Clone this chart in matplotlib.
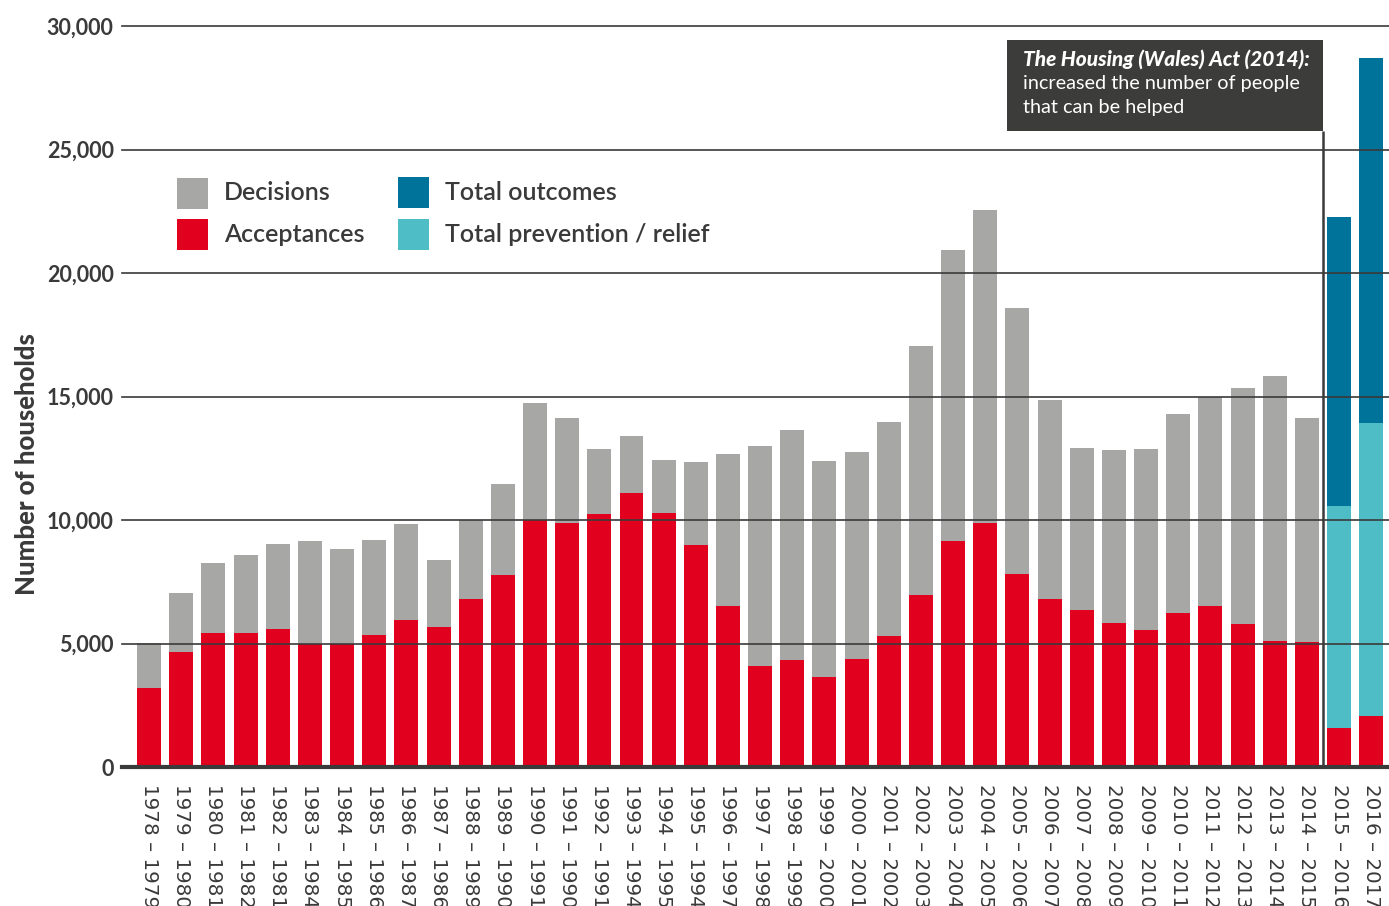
import matplotlib
matplotlib.use("Agg")
import matplotlib.pyplot as plt
from matplotlib.patches import Rectangle
import numpy as np

# ---------------- data ----------------
year_labels = [
    "1978 – 1979", "1979 – 1980", "1980 – 1981", "1981 – 1982", "1982 – 1981",
    "1983 – 1984", "1984 – 1985", "1985 – 1986", "1986 – 1987", "1987 – 1986",
    "1988 – 1989", "1989 – 1990", "1990 – 1991", "1991 – 1990", "1992 – 1991",
    "1993 – 1994", "1994 – 1995", "1995 – 1994", "1996 – 1997", "1997 – 1998",
    "1998 – 1999", "1999 – 2000", "2000 – 2001", "2001 – 2002", "2002 – 2003",
    "2003 – 2004", "2004 – 2005", "2005 – 2006", "2006 – 2007", "2007 – 2008",
    "2008 – 2009", "2009 – 2010", "2010 – 2011", "2011 – 2012", "2012 – 2013",
    "2013 – 2014", "2014 – 2015", "2015 – 2016", "2016 – 2017",
]

# Decisions (pre-2015 system)
decisions = [
    5020, 7040, 8260, 8580, 9030, 9150, 8830, 9190, 9840, 8380,
    10000, 11460, 14740, 14130, 12870, 13400, 12430, 12350, 12670, 13000,
    13640, 12390, 12750, 13970, 17040, 20930, 22550, 18580, 14860, 12910,
    12830, 12870, 14290, 14980, 15340, 15830, 14130,
]

# Acceptances (all years)
acceptances = [
    3200, 4660, 5420, 5420, 5590, 4980, 4980, 5340, 5950, 5670,
    6800, 7770, 10000, 9880, 10240, 11090, 10280, 8990, 6520, 4090,
    4330, 3640, 4370, 5300, 6960, 9150, 9880, 7810, 6800, 6360,
    5830, 5550, 6230, 6520, 5790, 5100, 5060, 1580, 2060,
]

# Housing (Wales) Act 2014 years
new_act_labels = ["2015 – 2016", "2016 – 2017"]
total_outcomes = [22270, 28700]
prevention_relief = [10570, 13930]

# ---------------- style ----------------
C_GRAY = "#a7a7a6"
C_RED = "#e2001f"
C_BLUE = "#00739a"
C_TEAL = "#4fbdc6"
C_TEXT = "#3a3a3a"
C_BOX = "#3c3c3b"
FONT = "Lato"

W, H = 1389, 906
fig = plt.figure(figsize=(W / 100, H / 100), dpi=100)

def fx(px):
    return px / W

def fy(py):
    return 1 - py / H

ax = fig.add_axes([fx(122), fy(767), fx(1389) - fx(122), fy(26) - fy(767)])

x_all = np.arange(len(year_labels))
n_old = len(decisions)
x_old = x_all[:n_old]
x_new = np.array([year_labels.index(l) for l in new_act_labels])

bw = 0.746
ax.bar(x_old, decisions, width=bw, color=C_GRAY, zorder=2, linewidth=0)
ax.bar(x_new, total_outcomes, width=bw, color=C_BLUE, zorder=2, linewidth=0)
ax.bar(x_new, prevention_relief, width=bw, color=C_TEAL, zorder=2, linewidth=0)
ax.bar(x_all, acceptances, width=bw, color=C_RED, zorder=2.5, linewidth=0)

ax.set_xlim(-0.84, 38.55)
ax.set_ylim(0, 30000)

yticks = list(range(0, 30001, 5000))
for yv in yticks[1:]:
    ax.axhline(yv, color=C_TEXT, lw=1.2, zorder=3, clip_on=False)

ax.set_yticks(yticks)
ax.set_yticklabels([f"{v:,}" for v in yticks], fontsize=15.5, color=C_TEXT,
                   family=FONT, fontweight="bold")
ax.tick_params(axis="y", length=0, pad=6)

ax.set_xticks(x_all)
ax.set_xticklabels(year_labels, rotation=-90, fontsize=14.3, color=C_TEXT,
                   family="DejaVu Sans", va="top", ha="center")
ax.tick_params(axis="x", length=0, pad=12)

for s in ["left", "right", "top"]:
    ax.spines[s].set_visible(False)
ax.spines["bottom"].set_color(C_TEXT)
ax.spines["bottom"].set_linewidth(3)
ax.spines["bottom"].set_zorder(4)

fig.text(fx(27), fy(464), "Number of households", rotation=90, ha="center",
         va="center", fontsize=18.5, fontweight="black", color=C_TEXT, family=FONT)

# ---------------- annotation for the 2014 Act ----------------
split = x_new[0] - 0.5
ax.plot([split, split], [0, 25750], color=C_TEXT, lw=1.8, zorder=4,
        solid_capstyle="butt")
box_left = 26.67
ax.add_patch(Rectangle((box_left, 25750), split - box_left, 29430 - 25750,
                       facecolor=C_BOX, edgecolor="none", zorder=5, clip_on=False))
fig.text(fx(1023), fy(59), "The Housing (Wales) Act (2014):", color="white",
         fontsize=15, fontweight="black", fontstyle="italic", family=FONT,
         va="center", ha="left", zorder=6)
fig.text(fx(1023), fy(84), "increased the number of people", color="white",
         fontsize=14.3, family=FONT, va="center", ha="left", zorder=6)
fig.text(fx(1023), fy(108), "that can be helped", color="white",
         fontsize=14.3, family=FONT, va="center", ha="left", zorder=6)

# ---------------- legend ----------------
legend_items = [
    (177, 178, C_GRAY, "Decisions"),
    (177, 219, C_RED, "Acceptances"),
    (398, 177, C_BLUE, "Total outcomes"),
    (398, 219, C_TEAL, "Total prevention / relief"),
]
for lx, ly, col, txt in legend_items:
    fig.add_artist(Rectangle((fx(lx), fy(ly + 31)), fx(31), 31 / H,
                             facecolor=col, edgecolor="none"))
    fig.text(fx(lx + 47), fy(ly + 15), txt, fontsize=18, color=C_TEXT,
             family=FONT, fontweight="semibold", va="center", ha="left")

fig.savefig("out.png", dpi=100)
